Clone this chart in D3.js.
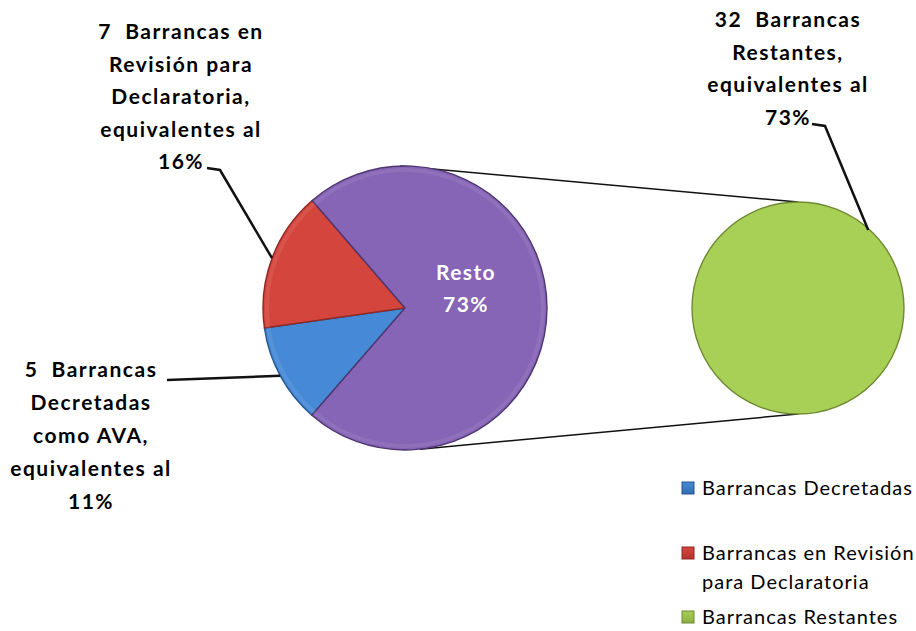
<!DOCTYPE html>
<html>
<head>
<meta charset="utf-8">
<script src="https://cdn.jsdelivr.net/npm/d3@7.9.0/dist/d3.min.js"></script>
<style>
  html, body { margin: 0; padding: 0; background: #fff; }
  svg { display: block; font-family: Lato, "Open Sans", sans-serif; }
  .lbl { font-weight: bold; font-size: 21px; letter-spacing: 1.5px; fill: #000; white-space: pre; }
  .inner { font-weight: bold; font-size: 21px; letter-spacing: 1.4px; fill: #fff; }
  .leg { font-size: 20px; letter-spacing: 1px; fill: #000; }
</style>
</head>
<body>
<svg id="chart" width="916" height="631"></svg>
<script>
// data
const categories = ['Barrancas Decretadas', 'Barrancas en Revisión para Declaratoria', 'Barrancas Restantes'];
const counts = [5, 7, 32];
const percents = [11, 16, 73];
const innerLabel = ['Resto', '73%'];
const labelLines = [
  ['5  Barrancas', 'Decretadas', 'como AVA,', 'equivalentes al', '11%'],
  ['7  Barrancas en', 'Revisión para', 'Declaratoria,', 'equivalentes al', '16%'],
  ['32  Barrancas', 'Restantes,', 'equivalentes al', '73%']
];
const legendLines = [
  ['Barrancas Decretadas'],
  ['Barrancas en Revisión', 'para Declaratoria'],
  ['Barrancas Restantes']
];

const colors = [
  { top: '#4689d6', bottom: '#2f6cb0', edge: '#24568e' },
  { top: '#d4453d', bottom: '#b3332e', edge: '#8e2824' },
  { top: '#8664b6', bottom: '#6a4a8e', edge: '#4e3670' }
];
const green = { top: '#a8d056', bottom: '#8cab40', edge: '#6f8a32' };

const svg = d3.select('#chart');
const defs = svg.append('defs');

// main pie geometry
const cx = 405, cy = 308, r = 142;
const cx2 = 798, r2 = 106;
const rad = d => d * Math.PI / 180;
const start = rad(221);

function grad(id, c, y0, y1) {
  let g = defs.append('linearGradient').attr('id', id)
    .attr('gradientUnits', 'userSpaceOnUse')
    .attr('x1', 0).attr('x2', 0).attr('y1', y0).attr('y2', y1);
  g.append('stop').attr('offset', '0%').attr('stop-color', c.top);
  g.append('stop').attr('offset', '100%').attr('stop-color', c.bottom);
}
colors.forEach((c, i) => grad('g' + i, c, cy - r, cy + r));
grad('gg', green, cy - r2, cy + r2);

let pie = d3.pie().sort(null).value(d => d).startAngle(start).endAngle(start + 2 * Math.PI);
let arcs = pie(counts);
let arc = d3.arc().innerRadius(0).outerRadius(r);
let point = (x, y, rr, a) => [x + rr * Math.sin(a), y - rr * Math.cos(a)];

// connector lines between the two pies
let conn = [[rad(-2), 0], [rad(174), Math.PI]];
conn.forEach(([a1, a2]) => {
  let p1 = point(cx, cy, r, a1);
  let p2 = point(cx2, cy, r2, a2);
  svg.append('line')
    .attr('x1', p1[0]).attr('y1', p1[1]).attr('x2', p2[0]).attr('y2', p2[1])
    .attr('stroke', '#111').attr('stroke-width', 1.5);
});

// main pie
let main = svg.append('g').attr('transform', `translate(${cx},${cy})`);
main.selectAll('path')
  .data(arcs)
  .join('path')
  .attr('d', arc)
  .attr('fill', (d, i) => `url(#g${i})`)
  .attr('stroke', (d, i) => colors[i].edge)
  .attr('stroke-width', 1.4);

// soft highlight rim
main.selectAll('path.rim')
  .data(arcs)
  .join('path')
  .attr('class', 'rim')
  .attr('d', d3.arc().innerRadius(r - 6).outerRadius(r - 2))
  .attr('fill', '#fff')
  .attr('opacity', 0.08);

// secondary pie (the "Resto" share)
let pie2 = d3.pie().sort(null).value(d => d);
let arcs2 = pie2([counts[2]]);
let second = svg.append('g').attr('transform', `translate(${cx2},${cy})`);
second.selectAll('path')
  .data(arcs2)
  .join('path')
  .attr('d', d3.arc().innerRadius(0).outerRadius(r2))
  .attr('fill', 'url(#gg)')
  .attr('stroke', green.edge)
  .attr('stroke-width', 1.4);

// inner label on the "Resto" slice
let restoPos = [466 - cx, 289 - cy];
main.append('text')
  .attr('class', 'inner')
  .attr('text-anchor', 'middle')
  .selectAll('tspan')
  .data(innerLabel)
  .join('tspan')
  .attr('x', restoPos[0])
  .attr('y', (d, i) => restoPos[1] - 16 + 7 + i * 32)
  .text(d => d);

// data labels with leader lines
const labelPos = [
  { x: 91, y: 370, step: 33, from: [167, 380], bend: null, target: point(cx, cy, r, (arcs[0].startAngle + arcs[0].endAngle) / 2) },
  { x: 181, y: 32, step: 32.5, from: [207, 168], bend: [220, 170], target: point(cx, cy, r, (arcs[1].startAngle + arcs[1].endAngle) / 2) },
  { x: 788, y: 20, step: 32.5, from: [812, 124], bend: [825, 126], target: point(cx2, cy, r2 - 1, rad(42)) }
];

labelLines.forEach((lines, k) => {
  let p = labelPos[k];
  svg.append('text')
    .attr('class', 'lbl')
    .attr('text-anchor', 'middle')
    .selectAll('tspan')
    .data(lines)
    .join('tspan')
    .attr('x', p.x)
    .attr('y', (d, i) => p.y + 7 + i * p.step)
    .text(d => d);
  let pts = [p.from];
  if (p.bend) pts.push(p.bend);
  pts.push(p.target);
  svg.append('path')
    .attr('d', d3.line()(pts))
    .attr('fill', 'none')
    .attr('stroke', '#111')
    .attr('stroke-width', 2.5);
});

// legend
const legendY = [488, 553, 617];
const allColors = [colors[0], colors[1], green];
legendLines.forEach((lines, i) => {
  let g = svg.append('g');
  let c = allColors[i];
  grad('lg' + i, c, legendY[i] - 6, legendY[i] + 7);
  g.append('rect')
    .attr('x', 682).attr('y', legendY[i] - 6)
    .attr('width', 12).attr('height', 12)
    .attr('fill', `url(#lg${i})`)
    .attr('stroke', c.edge).attr('stroke-width', 1);
  g.append('text')
    .attr('class', 'leg')
    .selectAll('tspan')
    .data(lines)
    .join('tspan')
    .attr('x', 702)
    .attr('y', (d, j) => legendY[i] + 7 + j * 29)
    .text(d => d);
});
</script>
</body>
</html>
